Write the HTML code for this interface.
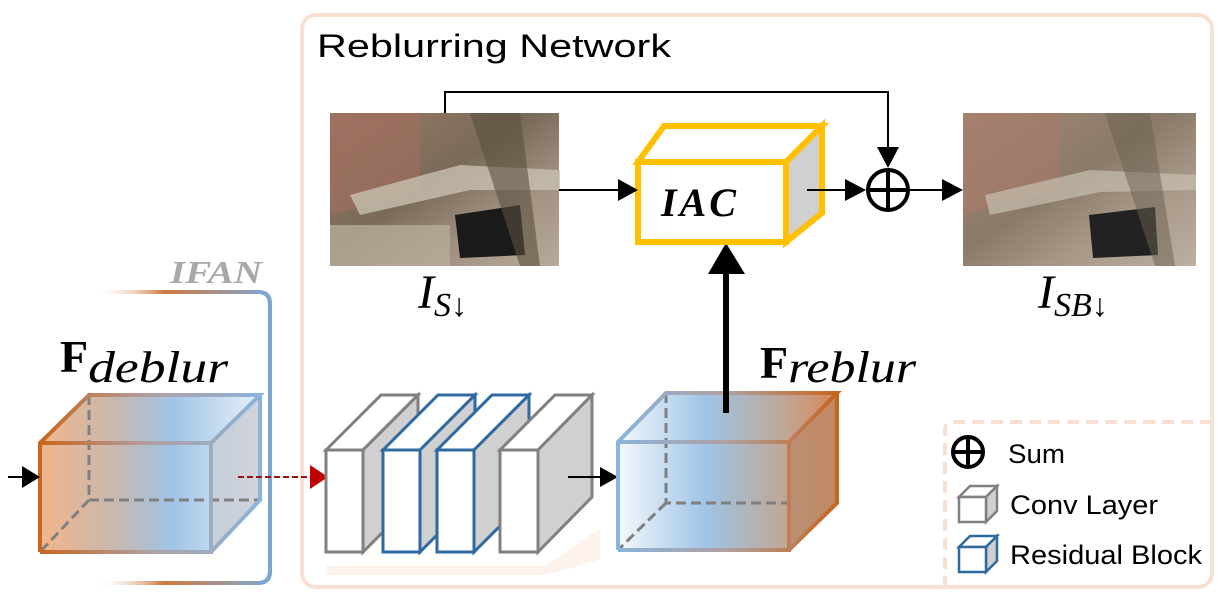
<!DOCTYPE html>
<html><head><meta charset="utf-8"><style>
html,body{margin:0;padding:0;background:#fff;width:1229px;height:605px;overflow:hidden}
svg{display:block}
.t{font-family:"Liberation Sans",sans-serif}
.m{font-family:"Liberation Serif",serif}
</style></head><body>
<svg width="1229" height="605" viewBox="0 0 1229 605" xmlns="http://www.w3.org/2000/svg">
<defs>
<linearGradient id="gD" x1="0" x2="1" y1="0" y2="0">
<stop offset="0" stop-color="#f2b58a"/><stop offset="0.35" stop-color="#c7b8b0"/><stop offset="0.6" stop-color="#9fc4e6"/><stop offset="1" stop-color="#e8f0f8"/></linearGradient>
<linearGradient id="gDs" x1="0" x2="1"><stop offset="0" stop-color="#c8651e"/><stop offset="0.5" stop-color="#b0a0a0"/><stop offset="1" stop-color="#8ab4dc"/></linearGradient>
<linearGradient id="gR" x1="0" x2="1" y1="0" y2="0">
<stop offset="0" stop-color="#f4f8fc"/><stop offset="0.4" stop-color="#9fc4e6"/><stop offset="0.75" stop-color="#c0a898"/><stop offset="1" stop-color="#d8885a"/></linearGradient>
<linearGradient id="gRs" x1="0" x2="1"><stop offset="0" stop-color="#8ab4dc"/><stop offset="0.5" stop-color="#b0a0a0"/><stop offset="1" stop-color="#c8651e"/></linearGradient>
<linearGradient id="gL" x1="0" x2="1"><stop offset="0" stop-color="#fff" stop-opacity="0"/><stop offset="0.4" stop-color="#d07a40"/><stop offset="1" stop-color="#7ba7d0"/></linearGradient>
<linearGradient id="ph1" x1="0" y1="0" x2="1" y2="1"><stop offset="0" stop-color="#9a7a68"/><stop offset="0.45" stop-color="#7a6a58"/><stop offset="0.7" stop-color="#a09080"/><stop offset="1" stop-color="#b8aa98"/></linearGradient>
<linearGradient id="ph2" x1="0" y1="0" x2="1" y2="1"><stop offset="0" stop-color="#a58878"/><stop offset="0.45" stop-color="#8a7a68"/><stop offset="0.7" stop-color="#a89888"/><stop offset="1" stop-color="#bcb0a0"/></linearGradient>
</defs>

<rect x="302" y="15" width="910" height="572" rx="14" fill="none" stroke="#f9e0d2" stroke-width="4"/>
<text x="317" y="57" class="t" font-size="32" fill="#000" textLength="354" lengthAdjust="spacingAndGlyphs">Reblurring Network</text>

<path d="M92,292 H258 Q270,292 270,304 V571 Q270,583 258,583 H92" fill="none" stroke="url(#gL)" stroke-width="4"/>
<path d="M258,292 Q270,292 270,304 V571 Q270,583 258,583" fill="none" stroke="#7ba7d0" stroke-width="4"/>
<text x="170" y="283" class="m" font-size="32" font-style="italic" font-weight="bold" fill="#a8a8a8" textLength="92" lengthAdjust="spacingAndGlyphs">IFAN</text>

<text x="60" y="372" class="m" font-size="46" fill="#000"><tspan font-weight="bold">F</tspan><tspan font-style="italic" font-size="44" dy="10" textLength="140" lengthAdjust="spacingAndGlyphs">deblur</tspan></text>

<g>
<path d="M40,443 L89,395 H260 V500 L211,552 H40 Z" fill="url(#gD)"/>
<path d="M211,443 L260,395 V500 L211,552 Z" fill="#c8ccd4" opacity="0.8"/>
<path d="M89,395 V500 H260 M89,500 L40,552" stroke="#808080" stroke-width="3" stroke-dasharray="10,5" fill="none"/>
<path d="M40,552 V443 L89,395 H260 L211,443 H40 M211,443 V552 H40 M260,395 V500 L211,552" fill="none" stroke="url(#gDs)" stroke-width="4"/>
</g>
<line x1="8" y1="477" x2="30" y2="477" stroke="#000" stroke-width="2"/>
<path d="M22,466 L40,477 L22,488Z" fill="#000"/>

<line x1="238" y1="477" x2="312" y2="477" stroke="#a01010" stroke-width="2" stroke-dasharray="6,3"/>
<path d="M310,465 L328,477 L310,489Z" fill="#c00000"/>

<path d="M326,566 L545,566 L600,528 L600,560 L545,575 L326,575Z" fill="#fdf3ec"/>

<g stroke-width="3">
<path d="M326,450 L381,395 H418 L363,450Z" fill="#fff" stroke="#808080"/>
<path d="M363,450 L418,395 V497 L363,552Z" fill="#d0d0d0" stroke="#808080"/>
<rect x="326" y="450" width="37" height="102" fill="#fff" stroke="#808080"/>
<path d="M383,450 L438,395 H475 L420,450Z" fill="#fff" stroke="#2e6aa0"/>
<path d="M420,450 L475,395 V497 L420,552Z" fill="#d0d0d0" stroke="#2e6aa0"/>
<rect x="383" y="450" width="37" height="102" fill="#fff" stroke="#2e6aa0"/>
<path d="M437,450 L492,395 H529 L474,450Z" fill="#fff" stroke="#2e6aa0"/>
<path d="M474,450 L529,395 V497 L474,552Z" fill="#d0d0d0" stroke="#2e6aa0"/>
<rect x="437" y="450" width="37" height="102" fill="#fff" stroke="#2e6aa0"/>
<path d="M500,450 L555,395 H592 L538,450Z" fill="#fff" stroke="#808080"/>
<path d="M538,450 L592,395 V497 L538,552Z" fill="#d0d0d0" stroke="#808080"/>
<rect x="500" y="450" width="38" height="102" fill="#fff" stroke="#808080"/>
</g>
<line x1="568" y1="477" x2="602" y2="477" stroke="#000" stroke-width="2"/>
<path d="M600,467 L618,477 L600,487Z" fill="#000"/>

<g>
<path d="M618,442 L666,393 H837 V503 L789,550 H618 Z" fill="url(#gR)"/>
<path d="M789,442 L837,393 V503 L789,550 Z" fill="#b88868" opacity="0.7"/>
<path d="M666,393 V503 H789 M666,503 L618,550" stroke="#808080" stroke-width="3" stroke-dasharray="10,5" fill="none"/>
<path d="M618,550 V442 L666,393 H837 L789,442 H618 M789,442 V550 H618 M837,393 V503 L789,550" fill="none" stroke="url(#gRs)" stroke-width="4"/>
</g>
<text x="760" y="378" class="m" font-size="46" fill="#000"><tspan font-weight="bold">F</tspan><tspan font-style="italic" font-size="44" dy="4" textLength="128" lengthAdjust="spacingAndGlyphs">reblur</tspan></text>

<line x1="726" y1="413" x2="726" y2="270" stroke="#000" stroke-width="6"/>
<path d="M708,274 L726,243 L745,274Z" fill="#000"/>

<rect x="330" y="113" width="229" height="153" fill="url(#ph1)"/>
<path d="M330,113 H420 V190 L330,215Z" fill="#a06e5e" opacity="0.7"/>
<path d="M350,195 L460,165 L560,170 V190 L470,190 L360,215Z" fill="#c8c0b0" opacity="0.8"/>
<path d="M455,215 L520,205 L525,255 L460,258Z" fill="#1a1a1a"/>
<path d="M330,225 H450 V266 H330Z" fill="#b8ab9a" opacity="0.8"/>
<path d="M470,113 L520,113 L540,266 L520,266Z" fill="#5a5040" opacity="0.6"/>
<rect x="963" y="113" width="233" height="153" fill="url(#ph2)"/>
<path d="M963,113 H1060 V190 L963,215Z" fill="#a87a68" opacity="0.6"/>
<path d="M985,195 L1090,170 L1196,175 V190 L1100,192 L990,215Z" fill="#c8c0b0" opacity="0.7"/>
<path d="M1089,215 L1155,207 L1158,255 L1093,258Z" fill="#222"/>
<path d="M1105,113 L1150,113 L1175,266 L1155,266Z" fill="#6a6050" opacity="0.5"/>

<text x="418" y="308" class="m" font-size="48" font-style="italic">I<tspan font-size="34" dy="8">S</tspan><tspan font-style="normal" font-size="32">↓</tspan></text>
<text x="1038" y="308" class="m" font-size="48" font-style="italic">I<tspan font-size="34" dy="8">SB</tspan><tspan font-style="normal" font-size="32">↓</tspan></text>

<g stroke="#ffc000" stroke-width="6" stroke-linejoin="miter">
<path d="M638,162 L664,126 H822 L786,162Z" fill="#fff"/>
<path d="M786,162 L822,126 V213 L786,242Z" fill="#d0d0d0"/>
<rect x="638" y="162" width="148" height="80" fill="#fff"/>
</g>
<text x="700" y="216" class="m" font-size="40" font-style="italic" font-weight="bold" text-anchor="middle" letter-spacing="3">IAC</text>

<line x1="559" y1="190" x2="620" y2="190" stroke="#000" stroke-width="2"/>
<path d="M618,179 L638,190 L618,201Z" fill="#000"/>
<line x1="807" y1="190" x2="848" y2="190" stroke="#000" stroke-width="2"/>
<path d="M845,179 L866,190 L845,201Z" fill="#000"/>
<line x1="910" y1="190" x2="945" y2="190" stroke="#000" stroke-width="2"/>
<path d="M942,179 L963,190 L942,201Z" fill="#000"/>
<path d="M445,113 V92 H888 V150" fill="none" stroke="#000" stroke-width="2"/>
<path d="M877,147 L888,168 L899,147Z" fill="#000"/>
<circle cx="888" cy="190" r="20" fill="#fff" stroke="#000" stroke-width="4"/>
<path d="M868,190 H908 M888,170 V210" stroke="#000" stroke-width="4"/>

<path d="M945,588 V430 Q945,422 953,422 H1210" fill="none" stroke="#f9e0d2" stroke-width="4" stroke-dasharray="12,7"/>
<circle cx="968" cy="452" r="15" fill="#fff" stroke="#000" stroke-width="4"/>
<path d="M953,452 H983 M968,437 V467" stroke="#000" stroke-width="4"/>
<text x="1008" y="463" class="t" font-size="27" textLength="57" lengthAdjust="spacingAndGlyphs">Sum</text>
<g stroke-width="2.5">
<path d="M959,497 L970,486 H997 L986,497Z" fill="#fff" stroke="#808080"/>
<path d="M986,497 L997,486 V511 L986,522Z" fill="#d0d0d0" stroke="#808080"/>
<rect x="959" y="497" width="27" height="25" fill="#fff" stroke="#808080"/>
<path d="M959,547 L970,536 H997 L986,547Z" fill="#fff" stroke="#2e6aa0"/>
<path d="M986,547 L997,536 V561 L986,572Z" fill="#d0d0d0" stroke="#2e6aa0"/>
<rect x="959" y="547" width="27" height="25" fill="#fff" stroke="#2e6aa0"/>
</g>
<text x="1010" y="514" class="t" font-size="27" textLength="148" lengthAdjust="spacingAndGlyphs">Conv Layer</text>
<text x="1010" y="564" class="t" font-size="27" textLength="192" lengthAdjust="spacingAndGlyphs">Residual Block</text>
</svg>
</body></html>
